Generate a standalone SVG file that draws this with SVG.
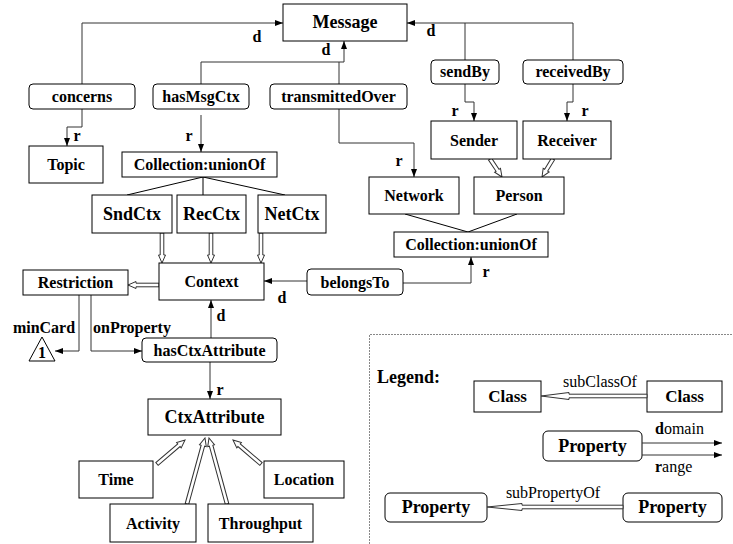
<svg xmlns="http://www.w3.org/2000/svg" width="733" height="544" viewBox="0 0 733 544">
<defs>
<style>
.box{fill:#fff;stroke:#000;stroke-width:1}
.t{font-family:"Liberation Serif","Times New Roman",serif;font-weight:bold;font-size:16px;text-anchor:middle;fill:#000}
.t18{font-size:18px}
.n{font-weight:normal}
.s{text-anchor:start}
.c{fill:none;stroke:#333;stroke-width:1}
.h{fill:#fff;stroke:#333;stroke-width:1}
.u{fill:none;stroke:#000;stroke-width:1}
</style>
<marker id="a" markerUnits="userSpaceOnUse" markerWidth="8" markerHeight="6" refX="8" refY="3" orient="auto">
<path d="M0,0 L8,3 L0,6 z" fill="#000"/>
</marker>
</defs>

<g id="connectors">
<path class="c" marker-end="url(#a)" d="M82,84 V23 H283"/>
<path class="c" marker-end="url(#a)" d="M82,109 V127 H67 V146"/>
<path class="c" marker-end="url(#a)" d="M201,84 V62 H344 V41"/>
<path class="c" marker-end="url(#a)" d="M201,115 V152"/>
<path class="c" d="M339,84 V62"/>
<path class="c" marker-end="url(#a)" d="M339,109 V143 H414 V177"/>
<path class="c" marker-end="url(#a)" d="M573,60 V23 H407"/>
<path class="c" d="M465,60 V23"/>
<path class="c" marker-end="url(#a)" d="M465,84 V102 H474 V121"/>
<path class="c" marker-end="url(#a)" d="M573,84 V102 H567 V121"/>
<path class="c" marker-end="url(#a)" d="M307,281 H264"/>
<path class="c" marker-end="url(#a)" d="M403,283 H471 V257"/>
<path class="c" marker-end="url(#a)" d="M211,338 V300"/>
<path class="c" marker-end="url(#a)" d="M210,362 V399"/>
<path class="c" marker-end="url(#a)" d="M79,295 V351 H55"/>
<path class="c" marker-end="url(#a)" d="M91,295 V351 H142"/>
<path class="u" d="M203,177 L127,195 M203,177 V195 M203,177 L285,195"/>
<path class="u" d="M468,232 L405,214 M468,232 L517,214"/>
<g transform="translate(162,263) rotate(-90)"><polygon class="h" points="0,0 8,-3.5 8,-1.8 30,-1.8 30,1.8 8,1.8 8,3.5"/></g>
<g transform="translate(211,263) rotate(-90)"><polygon class="h" points="0,0 8,-3.5 8,-1.8 30,-1.8 30,1.8 8,1.8 8,3.5"/></g>
<g transform="translate(261,263) rotate(-90)"><polygon class="h" points="0,0 8,-3.5 8,-1.8 30,-1.8 30,1.8 8,1.8 8,3.5"/></g>
<g transform="translate(128,285)"><polygon class="h" points="0,0 8,-3.5 8,-1.8 31,-1.8 31,1.8 8,1.8 8,3.5"/></g>
<g transform="translate(502,177) rotate(-123.7)"><polygon class="h" points="0,0 8,-3.5 8,-1.8 21.6,-1.8 21.6,1.8 8,1.8 8,3.5"/></g>
<g transform="translate(542,177) rotate(-58.6)"><polygon class="h" points="0,0 8,-3.5 8,-1.8 21.1,-1.8 21.1,1.8 8,1.8 8,3.5"/></g>
<g transform="translate(185,440) rotate(139.4)"><polygon class="h" points="0,0 8,-3.5 8,-1.8 36.9,-1.8 36.9,1.8 8,1.8 8,3.5"/></g>
<g transform="translate(205,438) rotate(105.3)"><polygon class="h" points="0,0 8,-3.5 8,-1.8 68.4,-1.8 68.4,1.8 8,1.8 8,3.5"/></g>
<g transform="translate(209,438) rotate(74.7)"><polygon class="h" points="0,0 8,-3.5 8,-1.8 68.4,-1.8 68.4,1.8 8,1.8 8,3.5"/></g>
<g transform="translate(233,440) rotate(40.6)"><polygon class="h" points="0,0 8,-3.5 8,-1.8 36.9,-1.8 36.9,1.8 8,1.8 8,3.5"/></g>
</g>

<g id="labels">
<text class="t" x="257" y="42">d</text>
<text class="t" x="326" y="55">d</text>
<text class="t" x="431" y="36">d</text>
<text class="t" x="77" y="141">r</text>
<text class="t" x="189" y="141">r</text>
<text class="t" x="455" y="116">r</text>
<text class="t" x="585" y="116">r</text>
<text class="t" x="399" y="166">r</text>
<text class="t" x="486" y="277">r</text>
<text class="t" x="282" y="303">d</text>
<text class="t" x="221" y="321">d</text>
<text class="t" x="220" y="395">r</text>
<text class="t" x="44" y="333">minCard</text>
<text class="t s" x="93" y="333">onProperty</text>
</g>

<g id="Message"><rect class="box" x="283" y="4" width="124" height="37"/><text class="t t18" x="345" y="28">Message</text></g>
<g id="concerns"><rect class="box" x="29" y="84" width="106" height="25" rx="4"/><text class="t" x="82" y="102">concerns</text></g>
<g id="hasMsgCtx"><rect class="box" x="153" y="84" width="96" height="25" rx="4"/><text class="t" x="201" y="102">hasMsgCtx</text></g>
<g id="transmittedOver"><rect class="box" x="270" y="84" width="137" height="25" rx="4"/><text class="t" x="338.5" y="102">transmittedOver</text></g>
<g id="sendBy"><rect class="box" x="431" y="60" width="68" height="24" rx="4"/><text class="t" x="465" y="77">sendBy</text></g>
<g id="receivedBy"><rect class="box" x="523" y="60" width="100" height="24" rx="4"/><text class="t" x="573" y="77">receivedBy</text></g>
<g id="Topic"><rect class="box" x="29" y="146" width="74" height="37"/><text class="t" x="66" y="170">Topic</text></g>
<g id="CollectionLeft"><rect class="box" x="122" y="152" width="155" height="25"/><text class="t" x="199.5" y="170">Collection:unionOf</text></g>
<g id="Sender"><rect class="box" x="431" y="121" width="86" height="38"/><text class="t" x="474" y="146">Sender</text></g>
<g id="Receiver"><rect class="box" x="523" y="121" width="88" height="38"/><text class="t" x="567" y="146">Receiver</text></g>
<g id="Network"><rect class="box" x="369" y="177" width="90" height="37"/><text class="t" x="414" y="201">Network</text></g>
<g id="Person"><rect class="box" x="474" y="177" width="90" height="37"/><text class="t" x="519" y="201">Person</text></g>
<g id="CollectionRight"><rect class="box" x="394" y="232" width="154" height="25"/><text class="t" x="471" y="250">Collection:unionOf</text></g>
<g id="SndCtx"><rect class="box" x="92" y="195" width="80" height="38"/><text class="t t18" x="132" y="220">SndCtx</text></g>
<g id="RecCtx"><rect class="box" x="177" y="195" width="69" height="38"/><text class="t t18" x="211.5" y="220">RecCtx</text></g>
<g id="NetCtx"><rect class="box" x="258" y="195" width="68" height="38"/><text class="t t18" x="292" y="220">NetCtx</text></g>
<g id="Context"><rect class="box" x="159" y="263" width="105" height="37"/><text class="t" x="211.5" y="287">Context</text></g>
<g id="Restriction"><rect class="box" x="23" y="270" width="105" height="25"/><text class="t" x="75.5" y="288">Restriction</text></g>
<g id="belongsTo"><rect class="box" x="307" y="269" width="96" height="26" rx="4"/><text class="t" x="355" y="288">belongsTo</text></g>
<g id="one"><polygon class="box" points="42,337 29,361 55,361"/><text class="t" x="42" y="358">1</text></g>
<g id="hasCtxAttribute"><rect class="box" x="142" y="338" width="135" height="24" rx="4"/><text class="t" x="209.5" y="356">hasCtxAttribute</text></g>
<g id="CtxAttribute"><rect class="box" x="148" y="399" width="133" height="36"/><text class="t t18" x="214.5" y="423">CtxAttribute</text></g>
<g id="Time"><rect class="box" x="79" y="461" width="74" height="37"/><text class="t" x="116" y="485">Time</text></g>
<g id="Location"><rect class="box" x="264" y="461" width="80" height="37"/><text class="t" x="304" y="485">Location</text></g>
<g id="Activity"><rect class="box" x="110" y="504" width="86" height="38"/><text class="t" x="153" y="529">Activity</text></g>
<g id="Throughput"><rect class="box" x="208" y="504" width="105" height="38"/><text class="t" x="260.5" y="529">Throughput</text></g>

<g id="legend">
<path d="M369.5,544 V334.5 H733" fill="none" stroke="#888" stroke-width="1" stroke-dasharray="2,1"/>
<text class="t t18 s" x="377" y="383">Legend:</text>
<rect class="box" x="474" y="381" width="67" height="31"/><text class="t" x="507.5" y="402" style="font-size:17px">Class</text>
<rect class="box" x="647" y="381" width="75" height="31"/><text class="t" x="684.5" y="402" style="font-size:17px">Class</text>
<g transform="translate(541,396)"><polygon class="h" points="0,0 28,-3.5 28,-1.8 106,-1.8 106,1.8 28,1.8 28,3.5"/></g>
<text class="t n" x="600" y="387">subClassOf</text>
<rect class="box" x="543" y="431" width="99" height="30" rx="5"/><text class="t t18" x="592.5" y="452">Property</text>
<path class="c" marker-end="url(#a)" d="M642,443 H722"/>
<path class="c" marker-end="url(#a)" d="M642,455 H722"/>
<text class="t n s" x="655" y="434"><tspan font-weight="bold">d</tspan>omain</text>
<text class="t n s" x="655" y="472"><tspan font-weight="bold">r</tspan>ange</text>
<rect class="box" x="385" y="493" width="102" height="29" rx="5"/><text class="t t18" x="436" y="513">Property</text>
<rect class="box" x="623" y="493" width="99" height="29" rx="5"/><text class="t t18" x="672.5" y="513">Property</text>
<g transform="translate(487,507)"><polygon class="h" points="0,0 35,-3.5 35,-1.8 136,-1.8 136,1.8 35,1.8 35,3.5"/></g>
<text class="t n" x="553" y="498">subPropertyOf</text>
</g>
</svg>
